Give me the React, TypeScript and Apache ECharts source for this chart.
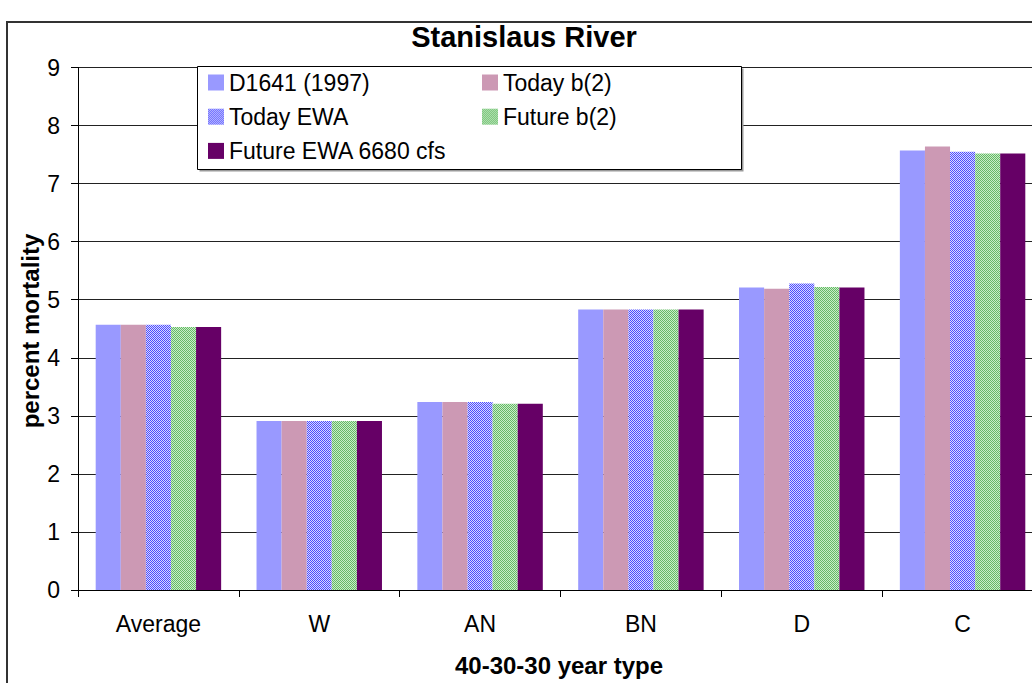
import React, { useEffect, useRef } from "react";
import * as echarts from "echarts";

const categories = ["Average", "W", "AN", "BN", "D", "C"];
const seriesNames = ["D1641 (1997)", "Today b(2)", "Today EWA", "Future b(2)", "Future EWA 6680 cfs"];
const d1641 = [4.57, 2.91, 3.24, 4.83, 5.21, 7.57];
const todayB2 = [4.57, 2.91, 3.24, 4.83, 5.19, 7.64];
const todayEWA = [4.57, 2.91, 3.24, 4.83, 5.28, 7.55];
const futureB2 = [4.53, 2.91, 3.21, 4.83, 5.22, 7.52];
const futureEWA = [4.53, 2.91, 3.21, 4.83, 5.21, 7.52];
const yMin = 0;
const yMax = 9;
const yStep = 1;

const FONT = "'Liberation Sans', Arial, sans-serif";

function checker(c1: string, c2: string): any {
  const cv = document.createElement("canvas");
  cv.width = 2;
  cv.height = 2;
  const ctx = cv.getContext("2d")!;
  ctx.fillStyle = c2;
  ctx.fillRect(0, 0, 2, 2);
  ctx.fillStyle = c1;
  ctx.fillRect(0, 0, 1, 1);
  ctx.fillRect(1, 1, 1, 1);
  return { image: cv, repeat: "repeat" };
}

export default function App() {
  const ref = useRef<HTMLDivElement>(null);
  useEffect(() => {
    if (!ref.current) return;
    const chart = echarts.init(ref.current, null, { renderer: "svg" });
    const colors: any[] = [
      "#9999FF",
      "#CC99B4",
      checker("#4D4DFF", "#DADAFF"),
      checker("#66B866", "#C8EEC8"),
      "#660066",
    ];
    const values = [d1641, todayB2, todayEWA, futureB2, futureEWA];
    const legendText = { fontFamily: FONT, fontSize: 23, color: "#000", lineHeight: 22 };
    chart.setOption({
      animation: false,
      backgroundColor: "#fff",
      grid: { left: 78, right: 57, top: 67.5, bottom: 93, containLabel: false },
      legend: [
        {
          data: [seriesNames[0], seriesNames[2], seriesNames[4]],
          orient: "vertical",
          left: 208,
          top: 71,
          padding: 0,
          itemGap: 11.2,
          itemWidth: 16,
          itemHeight: 16,
          icon: "rect",
          textStyle: legendText,
        },
        {
          data: [seriesNames[1], seriesNames[3]],
          orient: "vertical",
          left: 482,
          top: 71,
          padding: 0,
          itemGap: 11.2,
          itemWidth: 16,
          itemHeight: 16,
          icon: "rect",
          textStyle: legendText,
        },
      ],
      xAxis: {
        type: "category",
        data: categories,
        axisLine: { lineStyle: { color: "#000", width: 1 } },
        axisTick: { show: true, length: 7, interval: 0, lineStyle: { color: "#000" } },
        axisLabel: { fontFamily: FONT, fontSize: 23, color: "#000", margin: 22, interval: 0 },
        splitLine: { show: false },
      },
      yAxis: {
        type: "value",
        min: yMin,
        max: yMax,
        interval: yStep,
        axisLine: { show: true, lineStyle: { color: "#000", width: 1 } },
        axisTick: { show: true, length: 7, lineStyle: { color: "#000" } },
        axisLabel: { fontFamily: FONT, fontSize: 23, color: "#000", margin: 18 },
        splitLine: { show: true, lineStyle: { color: "#222", width: 1.2 } },
      },
      series: seriesNames.map((name, i) => ({
        name,
        type: "bar",
        data: values[i],
        barGap: "0%",
        barCategoryGap: "22%",
        itemStyle: { color: colors[i] },
      })),
      graphic: [
        {
          type: "rect",
          z: 2.9,
          shape: { x: 7, y: 22, width: 1200, height: 800 },
          style: { fill: "none", stroke: "#333", lineWidth: 2 },
        },
        {
          type: "rect",
          z: 2.95,
          shape: { x: 199.5, y: 68.5, width: 544, height: 103 },
          style: { fill: "#999", stroke: "none" },
        },
        {
          type: "rect",
          z: 3,
          shape: { x: 197.5, y: 66.5, width: 544, height: 103 },
          style: { fill: "#fff", stroke: "#000", lineWidth: 1 },
        },
        {
          type: "text",
          z: 5,
          x: 524,
          y: 37,
          style: {
            text: "Stanislaus River",
            fontFamily: FONT,
            fontSize: 29,
            fontWeight: "bold",
            fill: "#000",
            align: "center",
            verticalAlign: "middle",
          },
        },
        {
          type: "text",
          z: 5,
          x: 559,
          y: 665,
          style: {
            text: "40-30-30 year type",
            fontFamily: FONT,
            fontSize: 24,
            fontWeight: "bold",
            fill: "#000",
            align: "center",
            verticalAlign: "middle",
          },
        },
        {
          type: "text",
          z: 5,
          x: 30,
          y: 331,
          rotation: Math.PI / 2,
          style: {
            text: "percent mortality",
            fontFamily: FONT,
            fontSize: 24,
            fontWeight: "bold",
            fill: "#000",
            align: "center",
            verticalAlign: "middle",
          },
        },
      ],
    });
    return () => chart.dispose();
  }, []);
  return (
    <div
      style={{
        position: "fixed",
        left: 0,
        top: 0,
        width: 1032,
        height: 683,
        overflow: "hidden",
        background: "#fff",
      }}
    >
      <div ref={ref} style={{ width: 1100, height: 683 }} />
    </div>
  );
}
